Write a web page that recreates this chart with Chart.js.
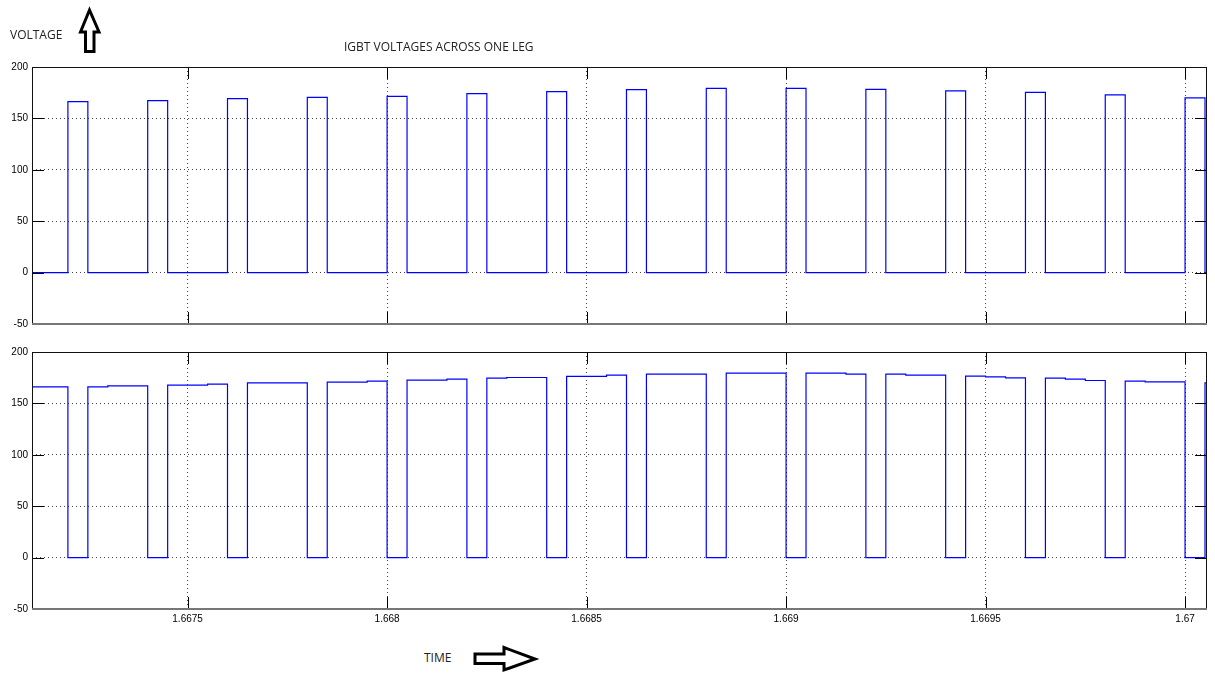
<!DOCTYPE html>
<html>
<head>
<meta charset="utf-8">
<script src="https://cdn.jsdelivr.net/npm/chart.js@4.4.1/dist/chart.umd.min.js"></script>
<style>
  body { margin: 0; background: #fff; }
  #page { position: relative; width: 1215px; height: 674px; overflow: hidden; background: #fff; }
  .note { position: absolute; font-family: "Open Sans", sans-serif; font-size: 12px; line-height: 12px; color: #222; white-space: nowrap; }
  canvas { position: absolute; left: 0; }
  svg { position: absolute; left: 0; top: 0; }
</style>
</head>
<body>
<div id="page">
  <canvas id="topChart" width="1215" height="334" style="top:0px"></canvas>
  <canvas id="botChart" width="1215" height="300" style="top:340px"></canvas>
  <div class="note" style="left:10px; top:29px;">VOLTAGE</div>
  <div class="note" style="left:344px; top:41px;">IGBT VOLTAGES ACROSS ONE LEG</div>
  <div class="note" style="left:424px; top:652px;">TIME</div>
  <svg width="1215" height="674">
    <!-- 上向き矢印 -->
    <polygon points="89.5,10 99,32 94,32 94,51.5 85.5,51.5 85.5,32 80.5,32" fill="#fff" stroke="#000" stroke-width="3" stroke-linejoin="miter"/>
    <!-- 右向き矢印 -->
    <polygon points="475,654 504,654 504,647.5 535,659 504,670 504,663.5 475,663.5" fill="#fff" stroke="#000" stroke-width="3" stroke-linejoin="miter"/>
  </svg>
</div>
<script>
// --- 軸の範囲と目盛り ---
const xMin = 1.66711;
const xMax = 1.670055;
const xTicks = [1.6675, 1.668, 1.6685, 1.669, 1.6695, 1.67];
const xTickLabels = ['1.6675', '1.668', '1.6685', '1.669', '1.6695', '1.67'];
const yTicks = [-50, 0, 50, 100, 150, 200];

// --- 上側IGBT: パルスのON/OFF時刻と電圧 ---
const pulseOn = [1.6672, 1.6674, 1.6676, 1.6678, 1.668, 1.6682, 1.6684, 1.6686, 1.6688, 1.669, 1.6692, 1.6694, 1.6696, 1.6698, 1.67];
const pulseOff = [1.66725, 1.66745, 1.66765, 1.66785, 1.66805, 1.66825, 1.66845, 1.66865, 1.66885, 1.66905, 1.66925, 1.66945, 1.66965, 1.66985, 1.67005];
const pulseVolts = [166.3, 167.3, 169.2, 170.5, 171.5, 174.1, 176.1, 178.0, 179.3, 179.3, 178.3, 176.7, 175.4, 172.8, 170.0];

// --- 下側IGBT: 直流電圧レベルの変化点 ---
const busTimes = [1.66711, 1.6673, 1.66745, 1.66755, 1.66765, 1.66785, 1.66795, 1.66805, 1.66815, 1.66825, 1.6683, 1.66845, 1.66855, 1.66865, 1.66885, 1.66905, 1.66915, 1.66925, 1.6693, 1.66945, 1.6695, 1.66955, 1.66965, 1.6697, 1.66975, 1.66985, 1.6699, 1.67005];
const busVolts = [166.0, 167.1, 167.8, 168.7, 170.0, 170.7, 171.6, 172.6, 173.6, 174.6, 175.2, 176.2, 177.5, 178.5, 179.5, 179.5, 178.5, 178.5, 177.5, 176.5, 175.8, 174.9, 174.6, 173.6, 172.3, 171.6, 171.0, 170.0];

// 上側の点列 (stepped)
function topPoints() {
    const pts = [{ x: xMin, y: 0 }];
    pulseOn.forEach((t, i) => {
        pts.push({ x: t, y: pulseVolts[i] });
        pts.push({ x: pulseOff[i], y: 0 });
    });
    pts.push({ x: xMax, y: 0 });
    return pts;
}

// 下側の点列: パルス中は0、それ以外は直流レベル
function botPoints() {
    const times = [...new Set([...busTimes, ...pulseOn, ...pulseOff, xMax])].sort((a, b) => a - b);
    const eps = 1e-9;
    return times.map(t => {
        const inPulse = pulseOn.some((on, i) => t >= on - eps && t < pulseOff[i] - eps);
        if (inPulse) return { x: t, y: 0 };
        let level = busVolts[0];
        busTimes.forEach((bt, i) => { if (bt <= t + eps) level = busVolts[i]; });
        return { x: t, y: level };
    });
}

// 枠と内向きの目盛り線
const framePlugin = {
    id: 'frame',
    afterDraw(chart) {
        const { ctx, chartArea: a, scales: { x, y } } = chart;
        ctx.save();
        ctx.lineWidth = 1;
        ctx.strokeStyle = '#000';
        ctx.beginPath();
        yTicks.forEach(v => {
            const py = Math.round(y.getPixelForValue(v)) + 0.5;
            ctx.moveTo(a.left, py); ctx.lineTo(a.left + 12, py);
            ctx.moveTo(a.right - 12, py); ctx.lineTo(a.right, py);
        });
        xTicks.forEach(v => {
            const px = Math.round(x.getPixelForValue(v)) + 0.5;
            ctx.moveTo(px, a.top); ctx.lineTo(px, a.top + 12);
            ctx.moveTo(px, a.bottom - 12); ctx.lineTo(px, a.bottom);
        });
        ctx.stroke();
        ctx.strokeStyle = '#111';
        ctx.strokeRect(Math.round(a.left) + 0.5, Math.round(a.top) + 0.5, Math.round(a.right - a.left) - 1, Math.round(a.bottom - a.top) - 1);
        ctx.strokeStyle = '#777';
        ctx.lineWidth = 2;
        ctx.beginPath();
        ctx.moveTo(a.left, Math.round(a.bottom));
        ctx.lineTo(a.right, Math.round(a.bottom));
        ctx.stroke();
        ctx.restore();
    }
};

function makeChart(id, points, showXLabels, padding) {
    const tickFont = { family: '"Liberation Sans", Arial, sans-serif', size: 10 };
    return new Chart(document.getElementById(id), {
        type: 'line',
        data: {
            datasets: [{
                data: points,
                stepped: true,
                borderColor: '#0000ff',
                borderWidth: 1.2,
                pointRadius: 0,
                fill: false
            }]
        },
        options: {
            responsive: false,
            devicePixelRatio: 1,
            animation: false,
            layout: { padding: padding },
            plugins: { legend: { display: false }, tooltip: { enabled: false } },
            scales: {
                x: {
                    type: 'linear',
                    min: xMin,
                    max: xMax,
                    afterBuildTicks: s => { s.ticks = xTicks.map(v => ({ value: v })); },
                    afterFit: s => { s.height = showXLabels ? 20 : 0; },
                    grid: { color: '#444', drawTicks: false },
                    border: { display: false, dash: [1, 3] },
                    ticks: {
                        display: showXLabels,
                        padding: 4,
                        color: '#000',
                        font: tickFont,
                        maxRotation: 0,
                        callback: (v, i) => xTickLabels[i]
                    }
                },
                y: {
                    min: -50,
                    max: 200,
                    afterBuildTicks: s => { s.ticks = yTicks.map(v => ({ value: v })); },
                    afterFit: s => { s.width = 32; },
                    grid: { color: '#444', drawTicks: false },
                    border: { display: false, dash: [1, 3] },
                    ticks: { padding: 4, color: '#000', font: tickFont }
                }
            }
        },
        plugins: [framePlugin]
    });
}

makeChart('topChart', topPoints(), false, { top: 67, right: 8, bottom: 3, left: 0 });
makeChart('botChart', botPoints(), true, { top: 12, right: 8, bottom: 11, left: 0 });
</script>
</body>
</html>
